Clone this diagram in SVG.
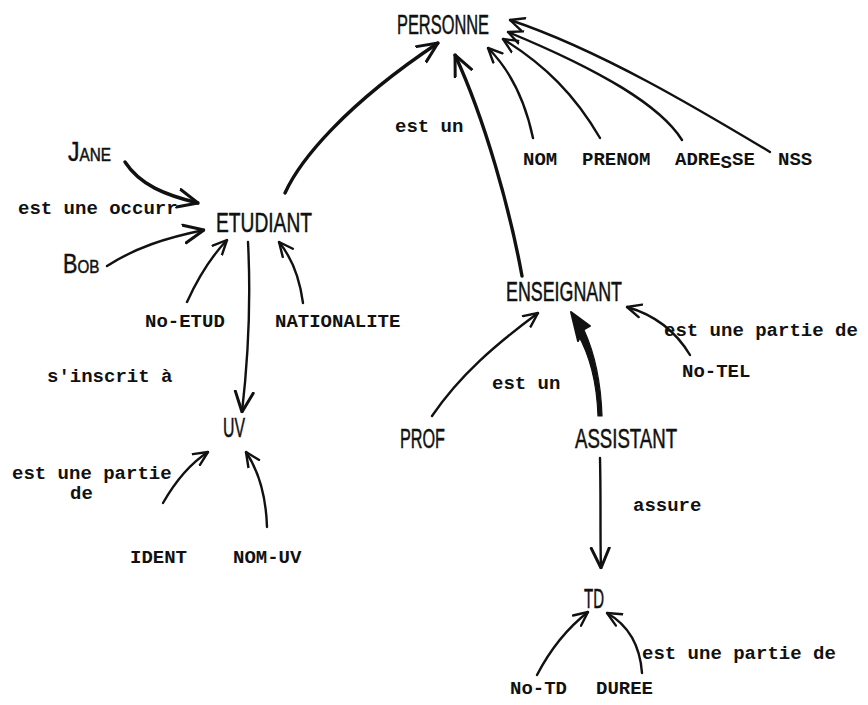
<svg xmlns="http://www.w3.org/2000/svg" width="868" height="705" viewBox="0 0 868 705">
  <style>
    .hand { font-family: "Liberation Sans", "DejaVu Sans", sans-serif; font-size: 27px; fill: #111; stroke: #111; stroke-width: 0.5; }
    .type { font-family: "Liberation Mono", "DejaVu Sans Mono", monospace; font-size: 19px; font-weight: bold; fill: #111; }
    .edge { fill: none; stroke: #111; stroke-width: 2.4; stroke-linecap: round; stroke-linejoin: round; }
    .heavy { stroke-width: 3.4; }
  </style>
  <defs>
    <marker id="vee" viewBox="0 0 16 16" refX="15" refY="8" markerWidth="16" markerHeight="16" markerUnits="userSpaceOnUse" orient="auto">
      <path d="M1,1.5 L15,8 L1,14.5" fill="none" stroke="#111" stroke-width="2.4" stroke-linecap="round" stroke-linejoin="round"/>
    </marker>
    <marker id="vee-big" viewBox="0 0 22 22" refX="21" refY="11" markerWidth="22" markerHeight="22" markerUnits="userSpaceOnUse" orient="auto">
      <path d="M1,2 L21,11 L1,20" fill="none" stroke="#111" stroke-width="3" stroke-linecap="round" stroke-linejoin="round"/>
    </marker>
  </defs>

  <!-- connectors -->
  <g id="connectors">
    <path class="edge heavy" d="M285,193 C300,160 345,105 438,43" marker-end="url(#vee-big)"/>
    <path class="edge heavy" d="M522,276 C510,210 485,120 455,55" marker-end="url(#vee-big)"/>
    <path class="edge" d="M533,138 C525,100 510,70 488,48" marker-end="url(#vee)"/>
    <path class="edge" d="M600,138 C575,95 545,65 503,39" marker-end="url(#vee)"/>
    <path class="edge" d="M682,140 C660,105 600,70 508,32" marker-end="url(#vee)"/>
    <path class="edge" d="M770,152 C700,110 600,50 510,20" marker-end="url(#vee)"/>
    <path class="edge heavy" d="M125,162 C140,185 165,195 198,203" marker-end="url(#vee-big)"/>
    <path class="edge" d="M107,266 C135,248 165,238 204,230" marker-end="url(#vee-big)"/>
    <path class="edge" d="M187,302 C197,280 208,260 227,240" marker-end="url(#vee)"/>
    <path class="edge" d="M303,303 C300,280 292,258 279,242" marker-end="url(#vee)"/>
    <path class="edge" d="M248,242 C251,300 248,360 242,412" marker-end="url(#vee-big)"/>
    <path class="edge" d="M163,503 C175,482 188,465 208,452" marker-end="url(#vee)"/>
    <path class="edge" d="M267,527 C266,495 258,470 246,452" marker-end="url(#vee)"/>
    <path class="edge" d="M432,416 C460,375 495,345 538,313" marker-end="url(#vee)"/>
    <!-- tapered stroke with a solid head -->
    <path d="M598,416 C597,386 591,357 577,333 L584,330 C595,354 601,386 602,416 Z" fill="#111" stroke="#111" stroke-width="1.2" stroke-linejoin="round"/>
    <path d="M571,312 L590,326 L583,330 L578,341 Z" fill="#111" stroke="#111" stroke-width="2" stroke-linejoin="round"/>
    <path class="edge" d="M690,355 C675,330 655,315 627,307" marker-end="url(#vee)"/>
    <path class="edge" d="M600,458 C601,500 600,540 601,568" marker-end="url(#vee-big)"/>
    <path class="edge" d="M537,675 C550,650 565,630 588,612" marker-end="url(#vee)"/>
    <path class="edge" d="M642,673 C640,645 628,625 607,613" marker-end="url(#vee)"/>
  </g>

  <!-- edge labels -->
  <g id="edge-labels">
    <text class="type" x="395" y="132">est un</text>
    <text class="type" x="18" y="214">est une occurr</text>
    <text class="type" x="47" y="382">s'inscrit à</text>
    <text class="type" x="492" y="389">est un</text>
    <text class="type" x="664" y="336">est une partie de</text>
    <text class="type"><tspan x="12" y="479">est une partie</tspan><tspan x="70" y="499">de</tspan></text>
    <text class="type" x="633" y="511">assure</text>
    <text class="type" x="642" y="659">est une partie de</text>
  </g>

  <!-- concepts -->
  <g id="personne"><text class="hand" x="397" y="34" font-size="25" textLength="92" lengthAdjust="spacingAndGlyphs">PERSONNE</text></g>
  <g id="etudiant"><text class="hand" x="216" y="232" font-size="29" textLength="96" lengthAdjust="spacingAndGlyphs">ETUDIANT</text></g>
  <g id="enseignant"><text class="hand" x="506" y="301" font-size="27" textLength="116" lengthAdjust="spacingAndGlyphs">ENSEIGNANT</text></g>
  <g id="prof"><text class="hand" x="400" y="448" font-size="28" textLength="45" lengthAdjust="spacingAndGlyphs">PROF</text></g>
  <g id="assistant"><text class="hand" x="575" y="448" font-size="28" textLength="102" lengthAdjust="spacingAndGlyphs">ASSISTANT</text></g>
  <g id="uv"><text class="hand" x="223" y="437" font-size="25" textLength="22" lengthAdjust="spacingAndGlyphs">UV</text></g>
  <g id="td"><text class="hand" x="584" y="608" font-size="25" textLength="20" lengthAdjust="spacingAndGlyphs">TD</text></g>

  <!-- instances: large initial, small capitals, narrowed -->
  <g id="jane" transform="translate(68,161) scale(0.85,1)"><text class="hand" x="0" y="0" font-size="23">J<tspan font-size="18">ANE</tspan></text></g>
  <g id="bob" transform="translate(63,273) scale(0.8,1)"><text class="hand" x="0" y="0" font-size="26">B<tspan font-size="19">OB</tspan></text></g>

  <!-- attributes -->
  <g id="nom"><text class="type" x="523" y="165">NOM</text></g>
  <g id="prenom"><text class="type" x="582" y="165">PRENOM</text></g>
  <g id="adresse"><text class="type" x="675" y="165">ADRE<tspan dy="3">S</tspan><tspan dy="-3">SE</tspan></text></g>
  <g id="nss"><text class="type" x="778" y="165">NSS</text></g>
  <g id="no-etud"><text class="type" x="145" y="327">No-ETUD</text></g>
  <g id="nationalite"><text class="type" x="275" y="327">NATIONALITE</text></g>
  <g id="no-tel"><text class="type" x="682" y="377">No-TEL</text></g>
  <g id="ident"><text class="type" x="130" y="563">IDENT</text></g>
  <g id="nom-uv"><text class="type" x="233" y="563">NOM-UV</text></g>
  <g id="no-td"><text class="type" x="510" y="694">No-TD</text></g>
  <g id="duree"><text class="type" x="596" y="694">DUREE</text></g>
</svg>
